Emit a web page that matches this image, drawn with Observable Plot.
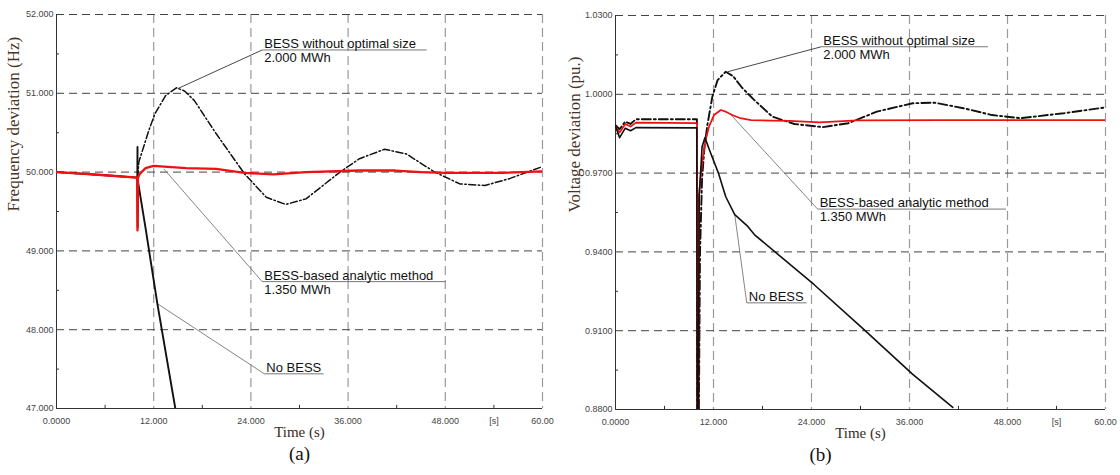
<!DOCTYPE html>
<html><head><meta charset="utf-8">
<script src="https://cdn.jsdelivr.net/npm/d3@7"></script>
<script src="https://cdn.jsdelivr.net/npm/@observablehq/plot@0.6"></script>
<style>
body{margin:0;background:#fff;}
#wrap{position:relative;width:1120px;height:475px;overflow:hidden;background:#fff;}
#a,#b{position:absolute;top:0;}
#a{left:0}#b{left:560px}
</style></head><body><div id="wrap"><div id="a"></div><div id="b"></div></div>
<script>
// ---- ticks ----
const timeTicks = [0, 12, 24, 36, 48, 54, 60];
const timeTickLabels = ["0.0000", "12.000", "24.000", "36.000", "48.000", "[s]", "60.00"];
const timeGrid = [12, 24, 36, 48, 60];
const timeMinor = [6, 18, 30, 42, 54];

const freqTicks = [47, 48, 49, 50, 51, 52];
const freqTickLabels = ["47.000", "48.000", "49.000", "50.000", "51.000", "52.000"];
const freqMinor = [47.5, 48.5, 49.5, 50.5, 51.5];

const voltTicks = [0.88, 0.91, 0.94, 0.97, 1.0, 1.03];
const voltTickLabels = ["0.8800", "0.9100", "0.9400", "0.9700", "1.0000", "1.0300"];
const voltMinor = [0.895, 0.925, 0.955, 0.985, 1.015];

// ---- series (time s, value) ----
const freqNoBess = [[0,50.0],[3,49.98],[6,49.96],[9.98,49.93],[10.0,50.32],[10.02,49.3],[10.06,49.88],[11.04,49.26],[12.45,48.33],[14.67,47.0]];
const freqAnalytic = [[0,50.0],[3,49.98],[6,49.96],[9.95,49.93],[10.0,49.26],[10.05,49.93],[10.3,49.98],[11.0,50.05],[12.0,50.08],[13.3,50.07],[16,50.05],[19.7,50.04],[23.2,49.99],[26.8,49.97],[30.8,50.0],[37.4,50.02],[41.8,50.02],[45,50.0],[48,49.99],[55,49.99],[60,50.01]];
const freqNoOpt = [[0,50.0],[6,49.96],[9.95,49.93],[10.0,49.93],[10.17,50.13],[11.4,50.53],[12.15,50.74],[13.47,50.97],[14.8,51.07],[15.8,51.03],[17.0,50.91],[19.7,50.49],[23.2,49.98],[25.9,49.68],[28.3,49.59],[30.8,49.66],[35.0,50.0],[37.4,50.17],[40.5,50.29],[43.2,50.23],[46.7,50.0],[49.8,49.85],[52.9,49.83],[56.0,49.92],[60,50.07]];

const voltNoBess = [[0,0.9878],[0.5,0.9835],[1.2,0.9871],[1.84,0.9861],[2.5,0.9873],[9.95,0.9872],[10.0,0.875],[10.15,0.875],[10.25,0.961],[10.6,0.980],[10.95,0.9835],[11.6,0.978],[12.6,0.970],[13.5,0.961],[14.6,0.9542],[16.2,0.9497],[17.0,0.9466],[24.3,0.9276],[30.4,0.9105],[36.4,0.8934],[41.3,0.8808]];
const voltAnalytic = [[0,0.9878],[0.5,0.9854],[1.2,0.9887],[1.84,0.9877],[2.5,0.9892],[9.98,0.9890],[10.02,0.875],[10.15,0.875],[10.2,0.9611],[10.6,0.9738],[11.0,0.9820],[11.45,0.9877],[12.06,0.9921],[12.9,0.9940],[13.5,0.9934],[14.3,0.9921],[15.3,0.9909],[16.6,0.9902],[19,0.9900],[21.3,0.9899],[25,0.9893],[29.6,0.9901],[40,0.99015],[60,0.99015]];
const voltNoOpt = [[0,0.9882],[0.5,0.9867],[1.2,0.9896],[1.84,0.9887],[2.5,0.9905],[9.97,0.9905],[10.0,0.875],[10.2,0.875],[10.35,0.94],[10.6,0.968],[10.9,0.980],[11.25,0.9883],[11.86,0.9991],[12.5,1.0054],[13.5,1.0086],[14.4,1.0069],[15.5,1.0025],[17.0,0.9978],[19.2,0.9915],[21.9,0.9887],[25.4,0.9875],[28.5,0.9890],[32.0,0.9934],[36.4,0.9966],[39.1,0.9968],[42.6,0.9947],[46.1,0.9921],[49.6,0.9909],[54.9,0.9928],[60,0.9950]];

// ---- annotation texts ----
const noteLabels = ["BESS without optimal size", "BESS-based analytic method", "No BESS"];
const noteSubs = ["2.000 MWh", "1.350 MWh", ""];
// leader anchors (data coords): from, elbow, underline end
const freqNotePts = [
  {from:[14.98,51.06], to:[25.4,51.55], end:45.7},
  {from:[13.25,50.04], to:[25.4,48.61], end:48.0},
  {from:[12.45,48.33], to:[25.66,47.44], end:32.96}
];
const voltNotePts = [
  {from:[13.74,1.0086], to:[25.2,1.0181], end:45.6},
  {from:[13.95,0.9928], to:[24.75,0.9563], end:47.8},
  {from:[14.6,0.9542], to:[16.07,0.9206], end:23.4}
];

const SANS = "Liberation Sans, Arial, sans-serif";
const SERIF = "Liberation Serif, Times New Roman, serif";

function panel(o) {
  const [y0, y1] = [o.yTicks[0], o.yTicks[o.yTicks.length - 1]];
  const notes = o.notePts.map((p, i) => ({...p, label: noteLabels[i], sub: noteSubs[i], i}));
  const leaderStroke = d => d.i === 0 ? "#333" : "#777";
  const line = (data, opts) => Plot.line(data, {x: d => d[0], y: d => d[1], clip: true, strokeLinejoin: "round", ...opts});
  const solid = line(o.noBess, {stroke: "#111", strokeWidth: o.solidW});
  const red = line(o.analytic, {stroke: "#f01010", strokeWidth: o.redW});
  return Plot.plot({
    width: 560, height: 475,
    marginLeft: o.ml, marginRight: o.mr, marginTop: o.mt, marginBottom: o.mb,
    x: {domain: [0, 60]},
    y: {domain: [y0, y1]},
    style: {background: "transparent", overflow: "visible", fontFamily: SANS},
    marks: [
      Plot.ruleX(timeGrid, {stroke: "#9a9a9a", strokeWidth: 1.2, strokeDasharray: "9,5"}),
      Plot.ruleY(o.yTicks.slice(1), {stroke: "#444", strokeWidth: 1, strokeDasharray: "8,5"}),
      Plot.ruleX([0], {stroke: "#333", strokeWidth: 1}),
      Plot.ruleY([y0], {stroke: "#333", strokeWidth: 1}),
      Plot.ruleX(timeMinor, {y1: y0, y2: y0 + (y1 - y0) * 0.008, stroke: "#333"}),
      Plot.ruleY(o.yMinor, {x1: 0, x2: 0.37, stroke: "#333"}),
      Plot.axisX(timeTicks, {anchor: "bottom", tickSize: 0, tickPadding: 9, fontSize: 9, fill: "#444",
        tickFormat: d => timeTickLabels[timeTicks.indexOf(d)], label: null}),
      Plot.axisY(o.yTicks, {anchor: "left", tickSize: 0, tickPadding: 3, fontSize: 9, fill: "#444",
        tickFormat: d => o.yTickLabels[o.yTicks.indexOf(d)], label: null}),
      // leaders
      Plot.link(notes, {x1: d => d.from[0], y1: d => d.from[1], x2: d => d.to[0], y2: d => d.to[1], stroke: leaderStroke, strokeWidth: 0.9}),
      Plot.link(notes, {x1: d => d.to[0], y1: d => d.to[1], x2: d => d.end, y2: d => d.to[1], stroke: "#777", strokeWidth: 1}),
      // curves
      line(o.noOpt, {stroke: "#111", strokeWidth: o.dashW, strokeDasharray: o.dash}),
      ...(o.redOnTop ? [solid, red] : [red, solid]),
      // note texts
      Plot.text(notes, {x: d => d.to[0], y: d => d.to[1], text: "label", textAnchor: "start", lineAnchor: "bottom", dx: 2, dy: -2, fontSize: 13, fill: "#111"}),
      Plot.text(notes, {x: d => d.to[0], y: d => d.to[1], text: "sub", textAnchor: "start", lineAnchor: "top", dx: 2, dy: 3, fontSize: 13, fill: "#111"}),
      // titles
      Plot.text([o.yTitle], {frameAnchor: "left", rotate: -90, dx: o.yTitleDx, fontSize: 17, fontFamily: SERIF, fill: "#4a3524"}),
      Plot.text(["Time (s)"], {frameAnchor: "bottom", dy: 28, fontSize: 15, fontFamily: SERIF, fill: "#3a2a1f"}),
      Plot.text([o.tag], {frameAnchor: "bottom", dy: 51, dx: o.tagDx, fontSize: 19, fontFamily: SERIF, fill: "#111"})
    ]
  });
}

document.getElementById("a").appendChild(panel({
  ml: 56, mr: 18, mt: 14, mb: 67,
  yTicks: freqTicks, yTickLabels: freqTickLabels, yMinor: freqMinor,
  noBess: freqNoBess, analytic: freqAnalytic, noOpt: freqNoOpt,
  notePts: freqNotePts, redOnTop: true,
  dash: "7,2.5,1.5,2.5", dashW: 1.5, solidW: 1.9, redW: 2.3,
  yTitle: "Frequency deviation (Hz)", yTitleDx: -43, tag: "(a)", tagDx: 0
}));
document.getElementById("b").appendChild(panel({
  ml: 55, mr: 15, mt: 15, mb: 66,
  yTicks: voltTicks, yTickLabels: voltTickLabels, yMinor: voltMinor,
  noBess: voltNoBess, analytic: voltAnalytic, noOpt: voltNoOpt,
  notePts: voltNotePts, redOnTop: false,
  dash: "9,3,2,3", dashW: 1.9, solidW: 1.6, redW: 1.7,
  yTitle: "Voltage deviation (pu.)", yTitleDx: -41, tag: "(b)", tagDx: -40
}));
</script></body></html>
